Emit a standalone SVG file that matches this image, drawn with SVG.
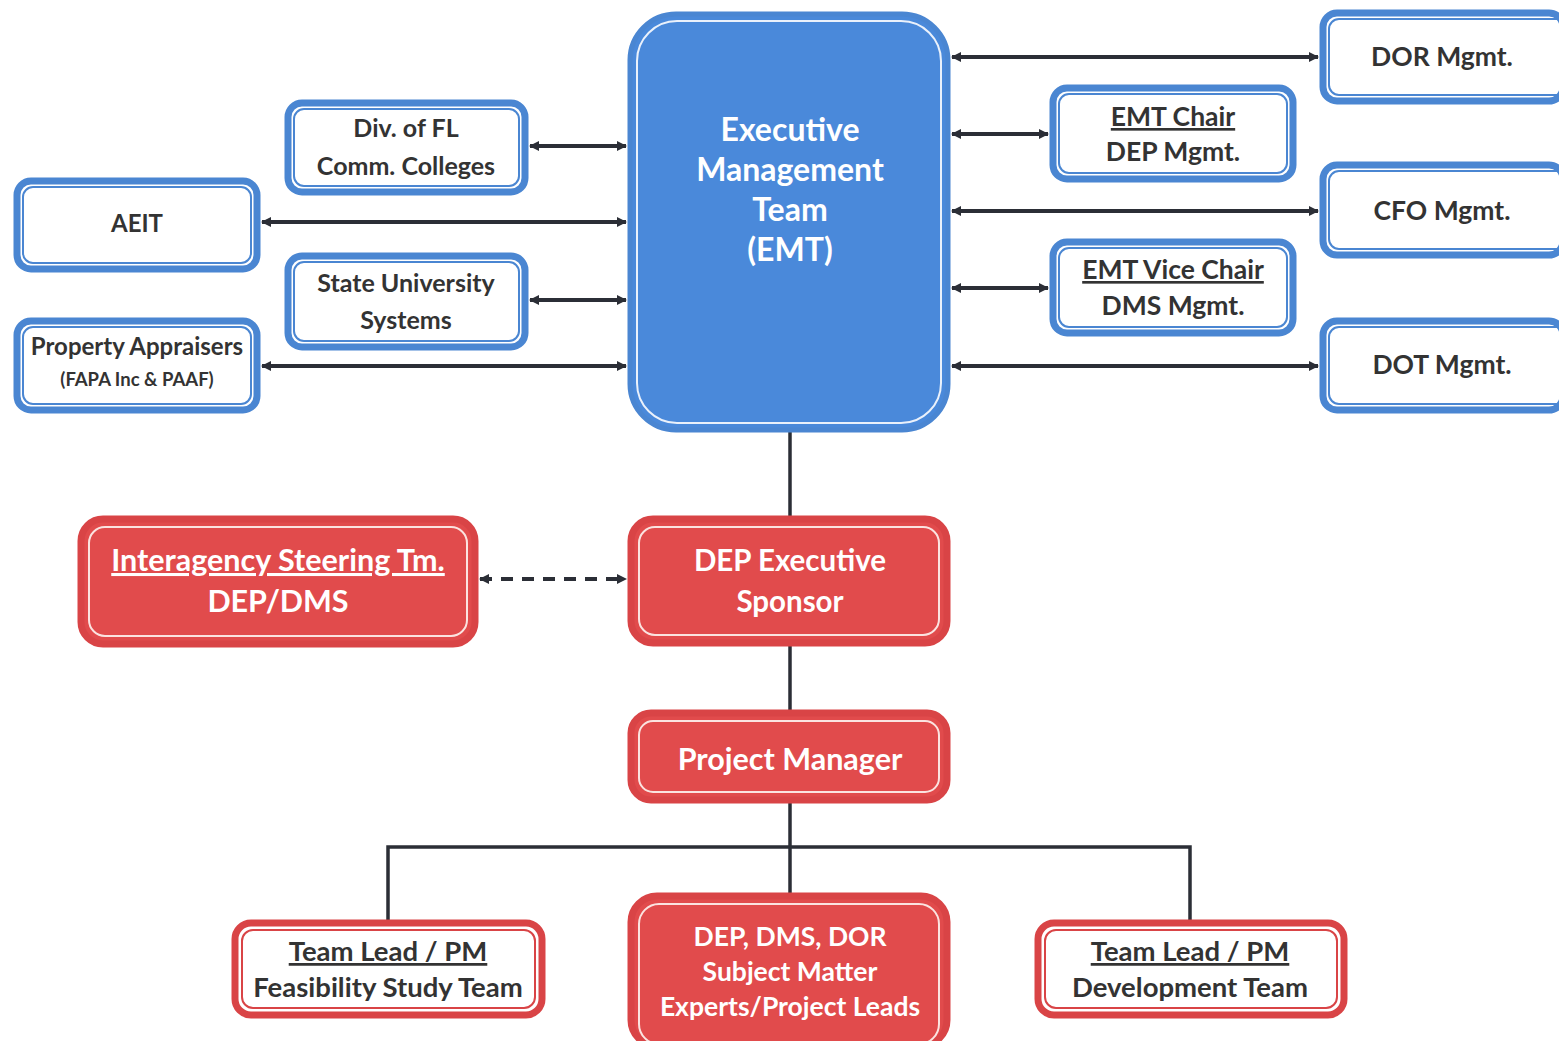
<svg xmlns="http://www.w3.org/2000/svg" width="1559" height="1041" viewBox="0 0 1559 1041">
<defs>
<style>
.bo{fill:#fff;stroke:#4a86d2;stroke-width:7}
.bi{fill:none;stroke:#4a86d2;stroke-width:2}
.ro{fill:#e14b4c;stroke:#d94446;stroke-width:7}
.ri{fill:none;stroke:#fbe3e0;stroke-width:2}
.wo{fill:#fff;stroke:#d94446;stroke-width:7}
.wi{fill:none;stroke:#d94446;stroke-width:2}
.t{font-family:Lato,"Liberation Sans",sans-serif;font-weight:bold;text-anchor:middle;fill:#333}
.w{fill:#fff}
.u{text-decoration:underline}
.c{stroke:#2b2e36;stroke-width:4;fill:none}
.l{stroke:#2b2e36;stroke-width:3.5;fill:none}
.d{stroke:#2b2e36;stroke-width:4;fill:none;stroke-dasharray:12 9}
</style>
<marker id="ah" viewBox="0 0 10 10" refX="9" refY="5" markerWidth="10" markerHeight="10" markerUnits="userSpaceOnUse" orient="auto-start-reverse">
<path d="M0,0 L10,5 L0,10 z" fill="#2b2e36"/>
</marker>
</defs>
<rect width="1559" height="1041" fill="#fff"/>
<g id="connectors">
<line class="c" x1="530" y1="146" x2="626" y2="146" marker-start="url(#ah)" marker-end="url(#ah)"/>
<line class="c" x1="262" y1="222" x2="626" y2="222" marker-start="url(#ah)" marker-end="url(#ah)"/>
<line class="c" x1="530" y1="300" x2="626" y2="300" marker-start="url(#ah)" marker-end="url(#ah)"/>
<line class="c" x1="262" y1="366" x2="626" y2="366" marker-start="url(#ah)" marker-end="url(#ah)"/>
<line class="c" x1="952" y1="57" x2="1318" y2="57" marker-start="url(#ah)" marker-end="url(#ah)"/>
<line class="c" x1="952" y1="134" x2="1048" y2="134" marker-start="url(#ah)" marker-end="url(#ah)"/>
<line class="c" x1="952" y1="211" x2="1318" y2="211" marker-start="url(#ah)" marker-end="url(#ah)"/>
<line class="c" x1="952" y1="288" x2="1048" y2="288" marker-start="url(#ah)" marker-end="url(#ah)"/>
<line class="c" x1="952" y1="366" x2="1318" y2="366" marker-start="url(#ah)" marker-end="url(#ah)"/>
<line class="d" x1="480" y1="579" x2="626" y2="579" marker-start="url(#ah)" marker-end="url(#ah)"/>
<line class="l" x1="790" y1="432" x2="790" y2="516"/>
<line class="l" x1="790" y1="646" x2="790" y2="710"/>
<line class="l" x1="790" y1="803" x2="790" y2="893"/>
<polyline class="l" points="388,920 388,847 1190,847 1190,920"/>
</g>
<g id="emt">
<rect x="630" y="14" width="318" height="416" rx="46" fill="#4a89da" stroke="#4a86d2" stroke-width="5"/>
<rect x="637" y="21" width="304" height="402" rx="40" fill="none" stroke="#eaf1fb" stroke-width="2"/>
<text class="t w" font-size="32"><tspan x="790" y="141">Executive</tspan><tspan x="790" y="181">Management</tspan><tspan x="790" y="221">Team</tspan><tspan x="790" y="261">(EMT)</tspan></text>
</g>
<g id="divfl">
<rect class="bo" x="288" y="103" width="237" height="89" rx="14"/>
<rect class="bi" x="294" y="109" width="225" height="77" rx="10"/>
<text class="t" font-size="25"><tspan x="406" y="137">Div. of FL</tspan><tspan x="406" y="175">Comm. Colleges</tspan></text>
</g>
<g id="aeit">
<rect class="bo" x="17" y="181" width="240" height="88" rx="14"/>
<rect class="bi" x="23" y="187" width="228" height="76" rx="10"/>
<text class="t" font-size="24" x="137" y="232">AEIT</text>
</g>
<g id="sus">
<rect class="bo" x="288" y="256" width="237" height="91" rx="14"/>
<rect class="bi" x="294" y="262" width="225" height="79" rx="10"/>
<text class="t" font-size="25"><tspan x="406" y="292">State University</tspan><tspan x="406" y="329">Systems</tspan></text>
</g>
<g id="propapp">
<rect class="bo" x="17" y="321" width="240" height="89" rx="14"/>
<rect class="bi" x="23" y="327" width="228" height="77" rx="10"/>
<text class="t" font-size="24" x="137" y="355">Property Appraisers</text>
<text class="t" font-size="18.5" x="137" y="386">(FAPA Inc &amp; PAAF)</text>
</g>
<g id="dor">
<rect class="bo" x="1323" y="13" width="240" height="88" rx="14"/>
<rect class="bi" x="1329" y="19" width="240" height="76" rx="10"/>
<text class="t" font-size="26.5" x="1442" y="66">DOR Mgmt.</text>
</g>
<g id="emtchair">
<rect class="bo" x="1053" y="88" width="240" height="91" rx="14"/>
<rect class="bi" x="1059" y="94" width="228" height="79" rx="10"/>
<text class="t" font-size="26.5"><tspan class="u" x="1173" y="126">EMT Chair</tspan><tspan x="1173" y="161">DEP Mgmt.</tspan></text>
</g>
<g id="cfo">
<rect class="bo" x="1323" y="165" width="240" height="90" rx="14"/>
<rect class="bi" x="1329" y="171" width="240" height="78" rx="10"/>
<text class="t" font-size="26.5" x="1442" y="220">CFO Mgmt.</text>
</g>
<g id="emtvice">
<rect class="bo" x="1053" y="242" width="240" height="91" rx="14"/>
<rect class="bi" x="1059" y="248" width="228" height="79" rx="10"/>
<text class="t" font-size="26.5"><tspan class="u" x="1173" y="279">EMT Vice Chair</tspan><tspan x="1173" y="315">DMS Mgmt.</tspan></text>
</g>
<g id="dot">
<rect class="bo" x="1323" y="321" width="240" height="89" rx="14"/>
<rect class="bi" x="1329" y="327" width="240" height="77" rx="10"/>
<text class="t" font-size="26.5" x="1442" y="374">DOT Mgmt.</text>
</g>
<g id="interagency">
<rect class="ro" x="81" y="519" width="394" height="125" rx="22"/>
<rect class="ri" x="89" y="527" width="378" height="109" rx="16"/>
<text class="t w" font-size="30.5"><tspan class="u" x="278" y="571">Interagency Steering Tm.</tspan><tspan x="278" y="612">DEP/DMS</tspan></text>
</g>
<g id="sponsor">
<rect class="ro" x="631" y="519" width="316" height="124" rx="22"/>
<rect class="ri" x="639" y="527" width="300" height="108" rx="16"/>
<text class="t w" font-size="29.5"><tspan x="790" y="571">DEP Executive</tspan><tspan x="790" y="612">Sponsor</tspan></text>
</g>
<g id="pm">
<rect class="ro" x="631" y="713" width="316" height="87" rx="20"/>
<rect class="ri" x="639" y="721" width="300" height="71" rx="14"/>
<text class="t w" font-size="30.5" x="790" y="770">Project Manager</text>
</g>
<g id="feas">
<rect class="wo" x="235" y="923" width="307" height="92" rx="16"/>
<rect class="wi" x="242" y="930" width="293" height="78" rx="11"/>
<text class="t" font-size="27.5"><tspan class="u" x="388" y="961">Team Lead / PM</tspan><tspan x="388" y="997">Feasibility Study Team</tspan></text>
</g>
<g id="sme">
<rect class="ro" x="631" y="896" width="316" height="150" rx="26"/>
<rect class="ri" x="639" y="904" width="300" height="140" rx="20"/>
<text class="t w" font-size="26.5"><tspan x="790" y="946">DEP, DMS, DOR</tspan><tspan x="790" y="981">Subject Matter</tspan><tspan x="790" y="1016">Experts/Project Leads</tspan></text>
</g>
<g id="dev">
<rect class="wo" x="1038" y="923" width="306" height="92" rx="16"/>
<rect class="wi" x="1045" y="930" width="292" height="78" rx="11"/>
<text class="t" font-size="27.5"><tspan class="u" x="1190" y="961">Team Lead / PM</tspan><tspan x="1190" y="997">Development Team</tspan></text>
</g>
</svg>
